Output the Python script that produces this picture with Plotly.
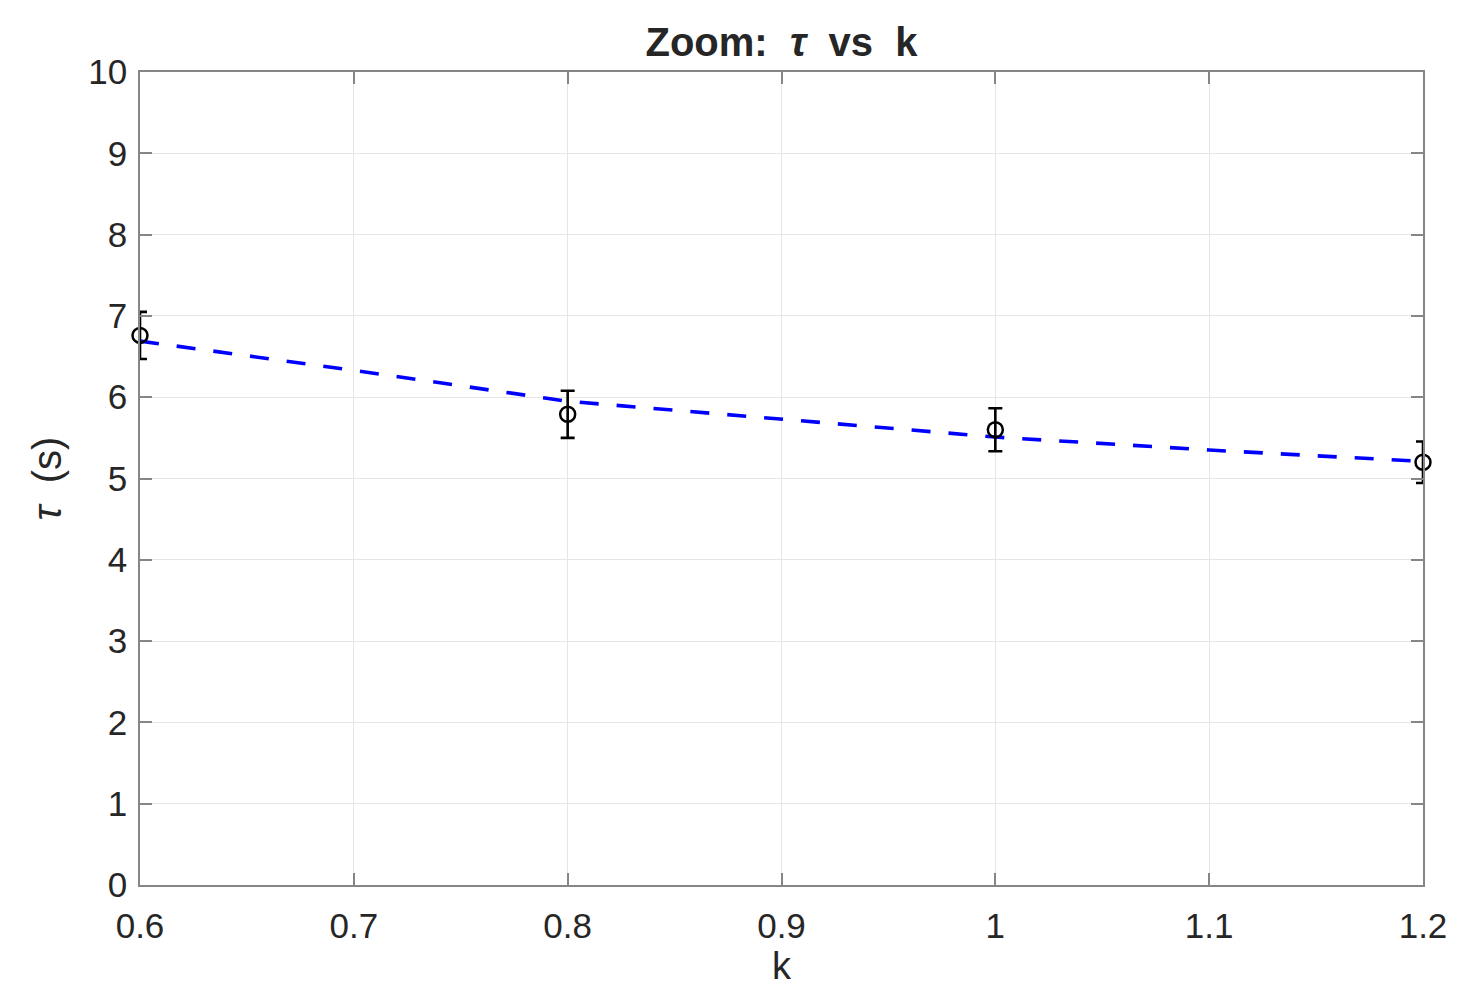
import plotly.graph_objects as go

k_data = [0.6, 0.8, 1.0, 1.2]
tau_data = [6.76, 5.79, 5.60, 5.20]
tau_err = [0.29, 0.29, 0.265, 0.255]

k_fit = [0.6, 0.7, 0.8, 0.9, 1.0, 1.1, 1.2]
tau_fit = [6.69, 6.33, 5.95, 5.73, 5.51, 5.35, 5.21]

x_ticks = [0.6, 0.7, 0.8, 0.9, 1.0, 1.1, 1.2]
x_ticklabels = ["0.6", "0.7", "0.8", "0.9", "1", "1.1", "1.2"]
y_ticks = list(range(0, 11))

font_family = "Liberation Sans, Arial, Helvetica, sans-serif"
txt = "#262626"

fig = go.Figure()
fig.add_trace(go.Scatter(
    x=k_fit, y=tau_fit, mode="lines",
    line=dict(color="#0000ff", width=3.6, dash="19px,18px"),
    showlegend=False, hoverinfo="skip", cliponaxis=False))
fig.add_trace(go.Scatter(
    x=k_data, y=tau_data, mode="markers",
    marker=dict(symbol="circle-open", size=15, color="black", line=dict(width=2.5, color="black")),
    error_y=dict(type="data", array=tau_err, visible=True, color="black", thickness=2.6, width=7),
    showlegend=False, cliponaxis=False))

axis_common = dict(
    showline=True, linecolor="#868686", linewidth=1.6, mirror="ticks",
    ticks="inside", ticklen=12, tickwidth=1.6, tickcolor="#868686",
    showgrid=True, gridcolor="#e6e6e6", gridwidth=1.2, zeroline=False,
    tickfont=dict(family=font_family, size=35, color=txt),
)

fig.update_layout(
    width=1465, height=986,
    paper_bgcolor="white", plot_bgcolor="white",
    margin=dict(l=132, r=50, t=64, b=109),
    title=dict(text="<b>Zoom:  <i>τ</i>  vs  k</b>", x=0.5, xref="paper", xanchor="center",
               y=1 - 34 / 986, yanchor="middle",
               font=dict(family=font_family, size=40, color=txt)),
    xaxis=dict(range=[0.6, 1.2], tickvals=x_ticks, ticktext=x_ticklabels,
               ticklabelstandoff=9,
               title=dict(text="k", font=dict(family=font_family, size=38, color=txt), standoff=0),
               **axis_common),
    yaxis=dict(range=[0, 10], tickvals=y_ticks, ticklabelstandoff=4,
               title=dict(text="<i>τ</i>  (s)", font=dict(family=font_family, size=40, color=txt), standoff=14),
               **axis_common),
)

fig.write_html("out.html")
